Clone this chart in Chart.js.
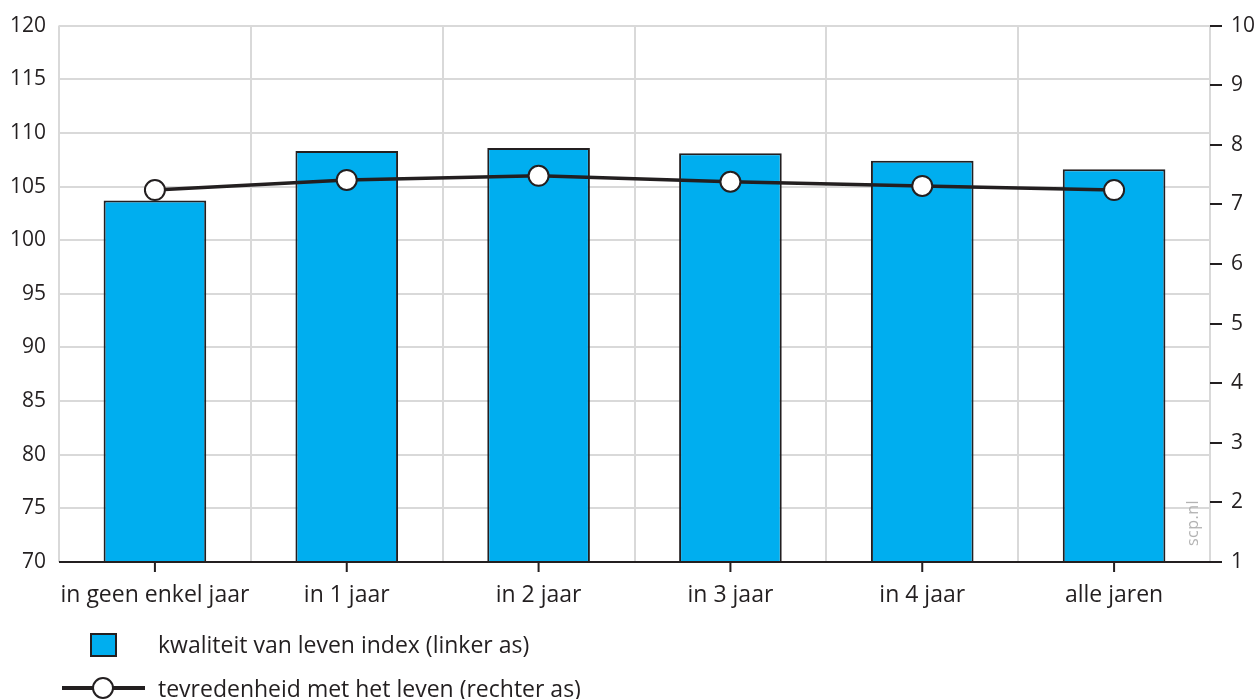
<!DOCTYPE html>
<html>
<head>
<meta charset="utf-8">
<script src="https://cdn.jsdelivr.net/npm/chart.js@4/dist/chart.umd.min.js"></script>
<style>
  html, body { margin:0; padding:0; background:#fff; }
  body { width:1258px; height:699px; position:relative; overflow:hidden; font-family:"Open Sans", sans-serif; color:#231f20; }
  #wrap { position:absolute; left:0; top:0; width:1258px; height:699px; }
  .legend { position:absolute; left:0; font-size:23px; line-height:28px; }
  .legend .txt { position:absolute; left:158px; white-space:nowrap; }
  .box { position:absolute; left:90px; width:23px; height:20px; background:#00aeef; border:2px solid #231f20; }
  .ln { position:absolute; left:62px; width:83px; height:3.5px; background:#231f20; }
  .dot { position:absolute; left:92px; width:22px; height:22px; border-radius:50%; background:#fff; border:2px solid #231f20; box-sizing:border-box; }
  #mark { position:absolute; left:1164px; top:512px; width:56px; text-align:center; transform:rotate(-90deg); font-size:16px; color:#b3b3b3; letter-spacing:0.5px; }
</style>
</head>
<body>
<div id="wrap"><canvas id="chart"></canvas></div>
<div id="mark">scp.nl</div>
<div class="legend" style="top:630px;">
  <div class="box" style="top:3px;"></div>
  <div class="txt" style="top:0;">kwaliteit van leven index (linker as)</div>
</div>
<div class="legend" style="top:674px;">
  <div class="ln" style="top:12px;"></div>
  <div class="dot" style="top:3px;"></div>
  <div class="txt" style="top:0;">tevredenheid met het leven (rechter as)</div>
</div>
<script>
// data
const categories   = ['in geen enkel jaar', 'in 1 jaar', 'in 2 jaar', 'in 3 jaar', 'in 4 jaar', 'alle jaren'];
const qualityIndex = [103.7, 108.3, 108.6, 108.1, 107.4, 106.6];   // linker as
const satisfaction = [7.24, 7.41, 7.48, 7.38, 7.31, 7.24];         // rechter as
const leftAxis  = { min: 70, max: 120, step: 5 };
const rightAxis = { min: 1, max: 10, step: 1 };

const INK = '#231f20';
const GRID = '#d9d9d9';

// zwarte x-as + tickmarks onder de categorieën
const axisMarks = {
  id: 'axisMarks',
  afterDraw(chart){
    const { ctx, chartArea, scales } = chart;
    const y = chartArea.bottom;
    ctx.save();
    ctx.strokeStyle = INK;
    ctx.lineWidth = 2;
    ctx.beginPath();
    ctx.moveTo(chartArea.left, y);
    ctx.lineTo(chartArea.right + 12, y);
    categories.forEach((c, i) => {
      const x = scales.x.getPixelForValue(i);
      ctx.moveTo(x, y);
      ctx.lineTo(x, y + 10);
    });
    ctx.stroke();
    ctx.restore();
  }
};

const chart = new Chart(document.getElementById('chart'), {
  data: {
    labels: categories,
    datasets: [
      {
        type: 'line',
        label: 'tevredenheid met het leven (rechter as)',
        data: satisfaction,
        yAxisID: 'y1',
        order: 0,
        borderColor: INK,
        borderWidth: 3.5,
        pointRadius: 10,
        pointBorderWidth: 2,
        pointBackgroundColor: '#fff',
        pointBorderColor: INK,
        tension: 0
      },
      {
        type: 'bar',
        label: 'kwaliteit van leven index (linker as)',
        data: qualityIndex,
        yAxisID: 'y',
        order: 1,
        backgroundColor: '#00aeef',
        borderColor: INK,
        borderWidth: 2,
        categoryPercentage: 1,
        barPercentage: 0.535
      }
    ]
  },
  options: {
    responsive: true,
    maintainAspectRatio: false,
    animation: false,
    layout: { padding: { top: 22, left: 0, right: 0, bottom: 0 } },
    plugins: { legend: { display: false }, tooltip: { enabled: false } },
    scales: {
      x: {
        offset: true,
        grid: { offset: true, color: GRID, lineWidth: 2, drawTicks: false },
        border: { display: false },
        ticks: { color: INK, padding: 20, maxRotation: 0, minRotation: 0, autoSkip: false,
                 font: { family: 'Open Sans', size: 23 } },
        afterFit: s => { s.height = 699 - 562; s.paddingLeft = 0; s.paddingRight = 0; }
      },
      y: {
        position: 'left',
        min: leftAxis.min, max: leftAxis.max,
        grid: { color: GRID, lineWidth: 2, drawTicks: false },
        border: { display: false },
        ticks: { stepSize: leftAxis.step, color: INK, padding: 13, font: { family: 'Open Sans', size: 21 } },
        afterFit: s => { s.width = 59; }
      },
      y1: {
        position: 'right',
        min: rightAxis.min, max: rightAxis.max,
        grid: { drawOnChartArea: false, color: INK, lineWidth: 2, tickLength: 12 },
        border: { display: false },
        ticks: { stepSize: rightAxis.step, color: INK, padding: 9, font: { family: 'Open Sans', size: 21 } },
        afterFit: s => { s.width = 48; }
      }
    }
  },
  plugins: [axisMarks]
});
</script>
</body>
</html>
